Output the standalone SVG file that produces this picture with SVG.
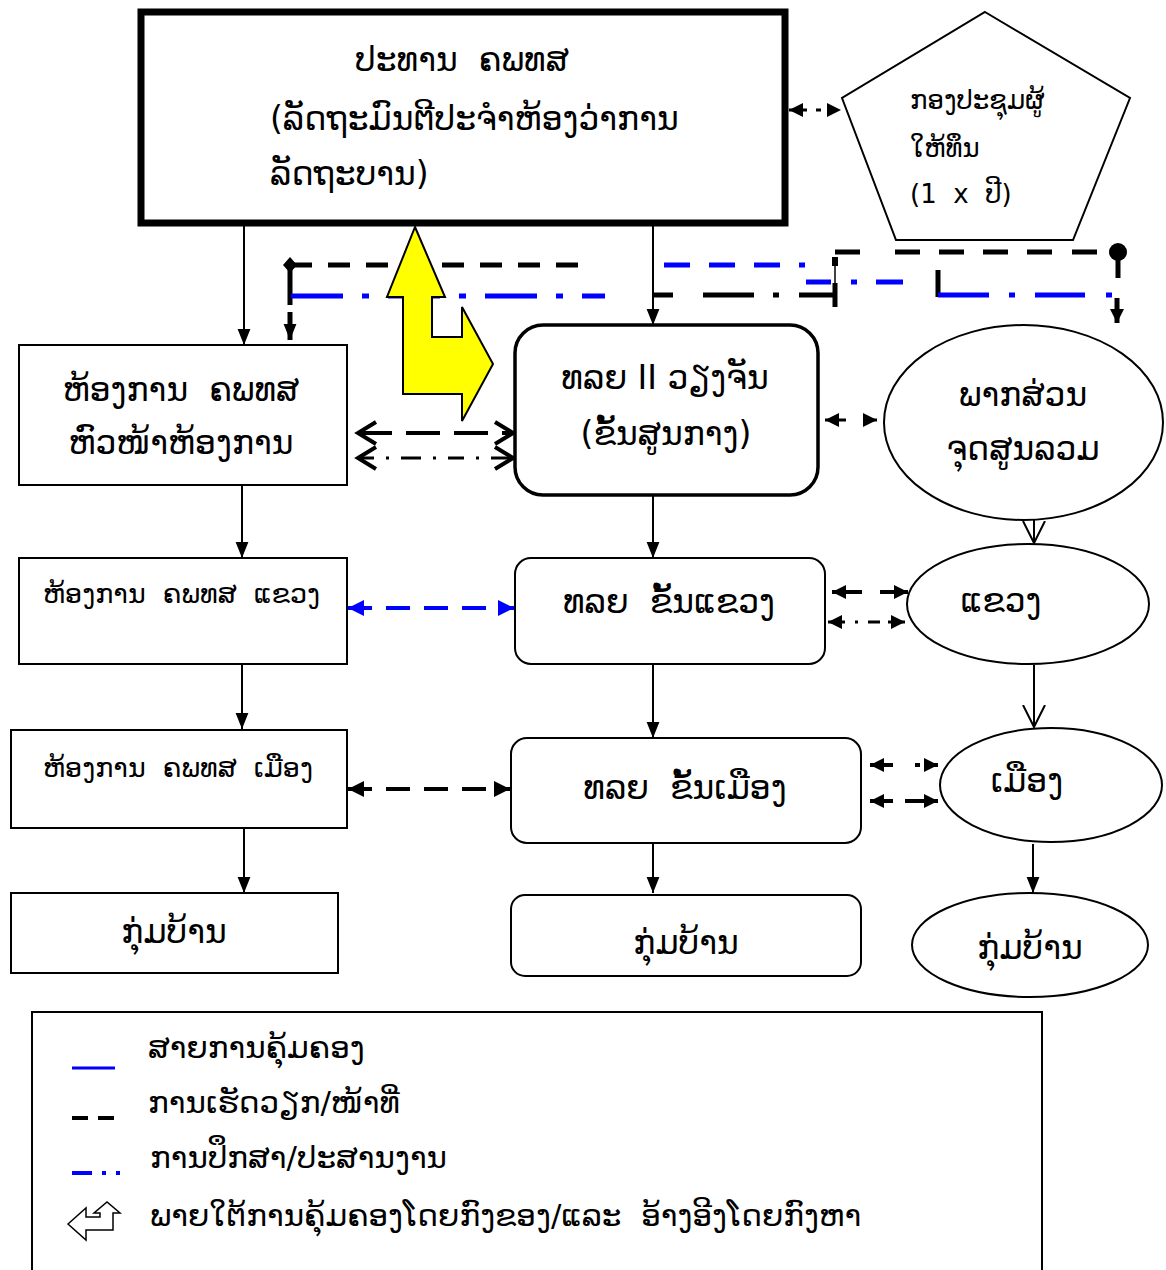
<svg xmlns="http://www.w3.org/2000/svg" width="1166" height="1270" viewBox="0 0 1166 1270">
<style>
  text { font-family: "DejaVu Sans", "Noto Sans", sans-serif; fill: #000; white-space: pre; }
  .big { font-size: 33px; }
  .sm { font-size: 26px; }
  .sm2 { font-size: 27px; }
  .leg { font-size: 31px; }
  .mc { text-anchor: middle; }
  .box { fill: #fff; stroke: #000; stroke-width: 2; }
  .ln { fill: none; stroke: #000; stroke-width: 2; }
  .w3 { stroke-width: 3; }
  .w4 { stroke-width: 4; }
  .thk { fill: none; stroke: #000; stroke-width: 5; }
  .blu { fill: none; stroke: #0000ff; stroke-width: 5; }
</style>
<defs>
  <marker id="ah" markerUnits="userSpaceOnUse" markerWidth="16" markerHeight="20" refX="20" refY="8" orient="auto-start-reverse" viewBox="0 0 20 16">
    <path d="M0,0 L20,8 L0,16 z" fill="#000"/>
  </marker>
  <marker id="as" markerUnits="userSpaceOnUse" markerWidth="14" markerHeight="14" refX="14" refY="7" orient="auto-start-reverse" viewBox="0 0 14 14">
    <path d="M0,0 L14,7 L0,14 z" fill="#000"/>
  </marker>
  <marker id="ak" markerUnits="userSpaceOnUse" markerWidth="16" markerHeight="16" refX="16" refY="8" orient="auto-start-reverse" viewBox="0 0 16 16">
    <path d="M0,0 L16,8 L0,16 z" fill="#000"/>
  </marker>
  <marker id="asb" markerUnits="userSpaceOnUse" markerWidth="16" markerHeight="16" refX="16" refY="8" orient="auto-start-reverse" viewBox="0 0 16 16">
    <path d="M0,0 L16,8 L0,16 z" fill="#0000ff"/>
  </marker>
  <marker id="chev" markerUnits="userSpaceOnUse" markerWidth="26" markerHeight="26" refX="22" refY="13" orient="auto-start-reverse" viewBox="0 0 26 26">
    <path d="M4,2 L22,13 L4,24" fill="none" stroke="#000" stroke-width="4"/>
  </marker>
  <marker id="vopen" markerUnits="userSpaceOnUse" markerWidth="26" markerHeight="26" refX="22" refY="13" orient="auto" viewBox="0 0 26 26">
    <path d="M0,2 L22,13 L0,24" fill="none" stroke="#000" stroke-width="2"/>
  </marker>
</defs>

<g id="connectors">
  <line class="ln" x1="244" y1="226" x2="244" y2="345" marker-end="url(#ah)"/>
  <line class="ln" x1="653" y1="226" x2="653" y2="325" marker-end="url(#ah)"/>
  <line class="ln" x1="242" y1="486" x2="242" y2="558" marker-end="url(#ah)"/>
  <line class="ln" x1="242" y1="665" x2="242" y2="729" marker-end="url(#ah)"/>
  <line class="ln" x1="244" y1="829" x2="244" y2="893" marker-end="url(#ah)"/>
  <line class="ln" x1="653" y1="496" x2="653" y2="558" marker-end="url(#ah)"/>
  <line class="ln" x1="653" y1="665" x2="653" y2="738" marker-end="url(#ah)"/>
  <line class="ln" x1="653" y1="844" x2="653" y2="893" marker-end="url(#ah)"/>
  <line class="ln" x1="1033" y1="844" x2="1033" y2="893" marker-end="url(#ah)"/>
  <line class="ln" x1="1034" y1="520" x2="1034" y2="543" marker-end="url(#vopen)"/>
  <line class="ln" x1="1034" y1="665" x2="1034" y2="727" marker-end="url(#vopen)"/>

  <line class="thk" x1="290" y1="265" x2="592" y2="265" stroke-dasharray="22 16"/>
  <path d="M290,257 L297,265 L290,273 L283,265 z" fill="#000"/>
  <line class="thk" x1="290" y1="265" x2="290" y2="305"/>
  <line class="thk" x1="290" y1="312" x2="290" y2="340" marker-end="url(#ah)"/>
  <line class="blu" x1="291" y1="296" x2="605" y2="296" stroke-dasharray="52 19 7 19"/>

  <line class="blu" x1="664" y1="265" x2="806" y2="265" stroke-dasharray="26 19 26 19 26 19 6 100"/>
  <line class="thk" x1="653" y1="295" x2="833" y2="295" stroke-dasharray="20 30 51 19 6 20 34 100"/>
  <line class="thk" x1="835" y1="283" x2="835" y2="307"/>
  <rect x="832" y="257" width="6" height="9" fill="#000"/>
  <line x1="835" y1="266" x2="835" y2="283" stroke="#000" stroke-width="1.5"/>
  <line class="blu" x1="806" y1="282" x2="903" y2="282" stroke-dasharray="25 20 6 19 27 200"/>
  <line class="thk" x1="835" y1="252" x2="1110" y2="252" stroke-dasharray="25 35 25 19 25 19 25 19 25 20 25 20"/>
  <circle cx="1118" cy="252" r="9" fill="#000"/>
  <line class="thk" x1="1118" y1="252" x2="1118" y2="278"/>
  <line class="thk" x1="938" y1="270" x2="938" y2="297"/>
  <line class="blu" x1="938" y1="295" x2="1112" y2="295" stroke-dasharray="51 20 6 20 50 21 6 100"/>
  <line class="thk" x1="1117" y1="298" x2="1117" y2="323" marker-end="url(#as)"/>

  <line class="ln w3" x1="789" y1="110" x2="841" y2="110" stroke-dasharray="18 9 5 50" marker-start="url(#as)" marker-end="url(#as)"/>

  <line class="ln w4" x1="358" y1="433" x2="513" y2="433" stroke-dasharray="34 14" marker-start="url(#chev)" marker-end="url(#chev)"/>
  <line class="ln w3" x1="358" y1="458" x2="513" y2="458" stroke-dasharray="16 12 3 12 20 12 3 12" marker-start="url(#chev)" marker-end="url(#chev)"/>

  <line class="ln w3" x1="825" y1="420" x2="877" y2="420" stroke-dasharray="21 17 100" marker-start="url(#as)" marker-end="url(#as)"/>

  <line x1="348" y1="608" x2="514" y2="608" fill="none" stroke="#0000ff" stroke-width="4" stroke-dasharray="24 14" marker-start="url(#asb)" marker-end="url(#asb)"/>
  <line class="ln w4" x1="348" y1="789" x2="510" y2="789" stroke-dasharray="24 14" marker-start="url(#ak)" marker-end="url(#ak)"/>

  <line class="ln w4" x1="832" y1="592" x2="908" y2="592" stroke-dasharray="30 18 40" marker-start="url(#as)" marker-end="url(#as)"/>
  <line class="ln w3" x1="828" y1="622" x2="905" y2="622" stroke-dasharray="17 10 3 10 12 8 30" marker-start="url(#as)" marker-end="url(#as)"/>

  <line class="ln w4" x1="870" y1="765" x2="938" y2="765" stroke-dasharray="23 22 5 6 30" marker-start="url(#as)" marker-end="url(#as)"/>
  <line class="ln w4" x1="870" y1="801" x2="938" y2="801" stroke-dasharray="23 12 50" marker-start="url(#as)" marker-end="url(#as)"/>
</g>

<g id="yellow-arrow">
  <polygon points="415,227 445,297 432,297 432,337 462,337 462,307 493,364 462,421 462,394 403,394 403,297 387,297" fill="#ffff00" stroke="#000" stroke-width="2"/>
</g>

<g id="n-top">
  <rect x="141" y="12" width="644" height="211" fill="#fff" stroke="#000" stroke-width="7"/>
  <text class="big mc" x="462" y="71">ປະທານ  ຄພທສ</text>
  <text class="big" x="270" y="130">(ລັດຖະມົນຕີປະຈຳຫ້ອງວ່າການ</text>
  <text class="big" x="270" y="185">ລັດຖະບານ)</text>
</g>

<g id="n-pentagon">
  <polygon points="985,12 1130,98 1073,240 896,240 842,98" class="box"/>
  <text class="sm" x="910" y="109">ກອງປະຊຸມຜູ້</text>
  <text class="sm" x="910" y="157">ໃຫ້ທຶນ</text>
  <text class="sm" x="910" y="203">(1  x  ປີ)</text>
</g>

<g id="n-left1">
  <rect x="19" y="345" width="328" height="140" class="box"/>
  <text class="big mc" x="181" y="401">ຫ້ອງການ  ຄພທສ</text>
  <text class="big mc" x="181" y="454">ຫົວໜ້າຫ້ອງການ</text>
</g>
<g id="n-left2">
  <rect x="19" y="558" width="328" height="106" class="box"/>
  <text class="sm2" x="43" y="603">ຫ້ອງການ  ຄພທສ  ແຂວງ</text>
</g>
<g id="n-left3">
  <rect x="11" y="730" width="336" height="98" class="box"/>
  <text class="sm2" x="43" y="777">ຫ້ອງການ  ຄພທສ  ເມືອງ</text>
</g>
<g id="n-left4">
  <rect x="11" y="893" width="327" height="80" class="box"/>
  <text class="big mc" x="174" y="943">ກຸ່ມບ້ານ</text>
</g>

<g id="n-center1">
  <rect x="515" y="325" width="303" height="170" rx="28" fill="#fff" stroke="#000" stroke-width="3.5"/>
  <text class="big mc" x="665" y="389">ທລຍ II ວຽງຈັນ</text>
  <text class="big mc" x="666" y="445">(ຂັ້ນສູນກາງ)</text>
</g>
<g id="n-center2">
  <rect x="515" y="558" width="310" height="106" rx="16" class="box"/>
  <text class="big mc" x="669" y="613">ທລຍ  ຂັ້ນແຂວງ</text>
</g>
<g id="n-center3">
  <rect x="511" y="738" width="350" height="105" rx="16" class="box"/>
  <text class="big mc" x="685" y="799">ທລຍ  ຂັ້ນເມືອງ</text>
</g>
<g id="n-center4">
  <rect x="511" y="895" width="350" height="81" rx="14" class="box"/>
  <text class="big mc" x="686" y="954">ກຸ່ມບ້ານ</text>
</g>

<g id="n-ell1">
  <ellipse cx="1023.5" cy="422.5" rx="139.5" ry="97.5" class="box"/>
  <text class="big mc" x="1023" y="406">ພາກສ່ວນ</text>
  <text class="big mc" x="1023" y="460">ຈຸດສູນລວມ</text>
</g>
<g id="n-ell2">
  <ellipse cx="1028" cy="604" rx="121" ry="60" class="box"/>
  <text class="big mc" x="1001" y="612">ແຂວງ</text>
</g>
<g id="n-ell3">
  <ellipse cx="1051" cy="785" rx="111" ry="57" class="box"/>
  <text class="big mc" x="1027" y="792">ເມືອງ</text>
</g>
<g id="n-ell4">
  <ellipse cx="1030" cy="945" rx="118" ry="52" class="box"/>
  <text class="big mc" x="1030" y="959">ກຸ່ມບ້ານ</text>
</g>

<g id="legend">
  <rect x="32" y="1012" width="1010" height="270" fill="#fff" stroke="#000" stroke-width="2"/>
  <line x1="72" y1="1068" x2="115" y2="1068" stroke="#0000ff" stroke-width="3"/>
  <text class="leg" x="148" y="1058">ສາຍການຄຸ້ມຄອງ</text>
  <line x1="72" y1="1118" x2="115" y2="1118" stroke="#000" stroke-width="4" stroke-dasharray="16 10"/>
  <text class="leg" x="148" y="1113">ການເຮັດວຽກ/ໜ້າທີ່</text>
  <line x1="72" y1="1173" x2="121" y2="1173" stroke="#0000ff" stroke-width="4" stroke-dasharray="20 10 4 10 4 10"/>
  <text class="leg" x="150" y="1168">ການປຶກສາ/ປະສານງານ</text>
  <polygon points="68,1224 86,1208 86,1217 100,1217 100,1213 94,1213 107,1202 120,1213 113,1213 113,1230 86,1230 86,1240" fill="#fff" stroke="#000" stroke-width="1.5"/>
  <text class="leg" x="150" y="1226">ພາຍໃຕ້ການຄຸ້ມຄອງໂດຍກົງຂອງ/ແລະ  ອ້າງອີງໂດຍກົງຫາ</text>
</g>
</svg>
